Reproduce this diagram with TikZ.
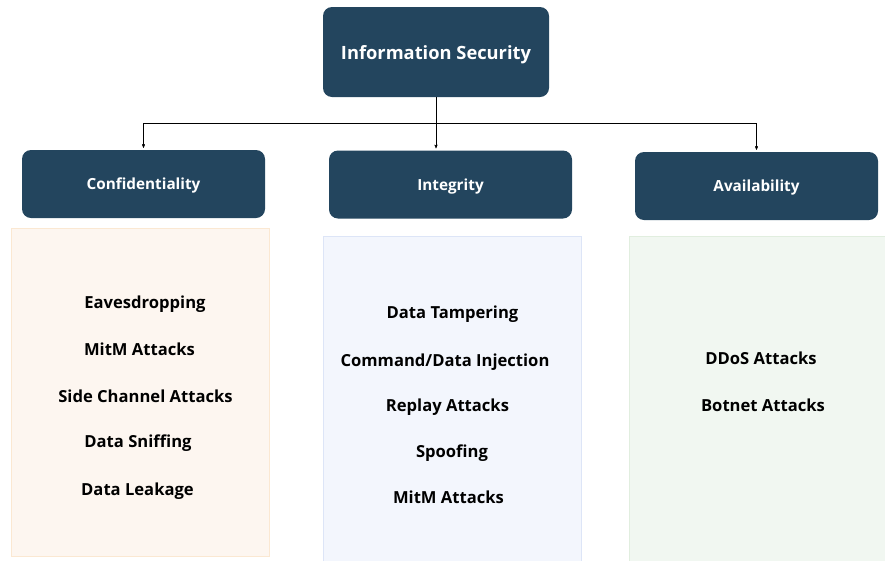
\documentclass[tikz,border=0pt]{standalone}
\usepackage{fontspec}
\setmainfont{Open Sans}
\usetikzlibrary{arrows, positioning}
\definecolor{navy}{RGB}{35,69,94}
\definecolor{peach}{RGB}{253,246,240}
\definecolor{peachline}{RGB}{251,232,210}
\definecolor{skyfill}{RGB}{243,246,253}
\definecolor{skyline}{RGB}{221,229,247}
\definecolor{mint}{RGB}{241,247,241}
\definecolor{mintline}{RGB}{225,238,223}

\begin{document}
\begin{tikzpicture}[x=1pt, y=1pt]
	\tikzset {>=stealth', head/.style={draw=none, fill=navy, rounded corners=9pt, text=white, text depth=0pt, font=\bfseries\fontsize{15.3}{18}\selectfont, minimum width=243pt, minimum height=68pt}, attack/.style={font=\bfseries\fontsize{16.6}{19}\selectfont, text=black, text depth=0pt} }
	\useasboundingbox (0,0) rectangle (885,-560);

	% columns behind the attack lists
	\draw[peachline, fill=peach] (11,-228) rectangle (269,-556);
	\draw[skyline, fill=skyfill] (323,-236) rectangle (581,-562);
	\draw[mintline, fill=mint] (629,-236) rectangle (887,-562);

	\node[head, minimum width=226pt, minimum height=90pt, font=\bfseries\fontsize{18.3}{21}\selectfont] (is) at (436,-52) {Information Security};
	\node[head] (conf) at (143.5,-184) {Confidentiality};
	\node[head] (integ) at (450.5,-184.5) {Integrity};
	\node[head] (avail) at (756.5,-186) {Availability};

	\coordinate (bus) at (436,-123);
	\draw (is) -- (bus);
	\draw[->] (bus) -| ([yshift=2pt]conf.north);
	\draw[->] (bus) -- ([yshift=2pt]bus |- integ.north);
	\draw[->] (bus) -| ([yshift=2pt]avail.north);

	% confidentiality
	\node[attack] (eav) at (145,-302) {Eavesdropping};
	\node[attack] (mitm1) at (139.5,-349) {MitM Attacks};
	\node[attack] (side) at (145.5,-396) {Side Channel Attacks};
	\node[attack] (sniff) at (138,-441) {Data Sniffing};
	\node[attack] (leak) at (137.5,-489) {Data Leakage};

	% integrity
	\node[attack] (tamper) at (452.5,-312) {Data Tampering};
	\node[attack] (inject) at (445,-360) {Command/Data Injection};
	\node[attack] (replay) at (447.5,-405) {Replay Attacks};
	\node[attack] (spoof) at (452,-451) {Spoofing};
	\node[attack] (mitm2) at (448.5,-497) {MitM Attacks};

	% availability
	\node[attack] (ddos) at (761,-358) {DDoS Attacks};
	\node[attack] (botnet) at (763,-405) {Botnet Attacks};
\end{tikzpicture}
\end{document}
